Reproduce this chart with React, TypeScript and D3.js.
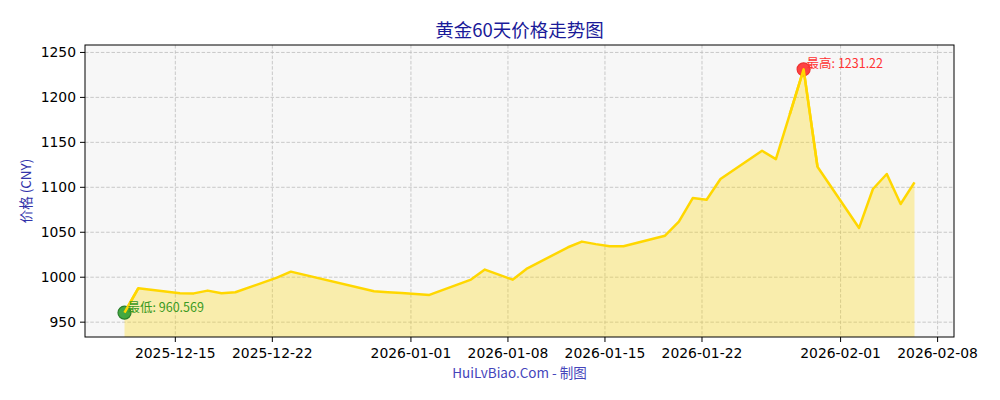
import React from "react";
import * as d3 from "d3";

const dates: string[] = [
  "2025-12-11", "2025-12-12", "2025-12-15", "2025-12-16", "2025-12-17", "2025-12-18", "2025-12-19",
  "2025-12-22", "2025-12-23", "2025-12-29", "2025-12-30", "2025-12-31", "2026-01-02",
  "2026-01-05", "2026-01-06", "2026-01-07", "2026-01-08", "2026-01-09",
  "2026-01-12", "2026-01-13", "2026-01-14", "2026-01-15", "2026-01-16",
  "2026-01-19", "2026-01-20", "2026-01-21", "2026-01-22", "2026-01-23",
  "2026-01-26", "2026-01-27", "2026-01-28", "2026-01-29", "2026-01-30",
  "2026-02-02", "2026-02-03", "2026-02-04", "2026-02-05", "2026-02-06",
];
const prices: number[] = [
  960.569, 987.8, 982.2, 982.0, 985.1, 982.2, 983.3,
  999.5, 1006.2, 984.4, 983.4, 982.4, 980.3,
  997.4, 1008.5, 1002.8, 997.3, 1009.2,
  1033.3, 1039.6, 1036.8, 1034.4, 1034.4,
  1046.2, 1061.8, 1088.1, 1086.2, 1109.2,
  1140.7, 1131.4, 1181.0, 1231.22, 1122.9,
  1054.8, 1098.1, 1114.8, 1081.4, 1105.5,
];
const xTickLabels: string[] = [
  "2025-12-15", "2025-12-22", "2026-01-01", "2026-01-08", "2026-01-15", "2026-01-22", "2026-02-01", "2026-02-08",
];
const yTickValues: number[] = [950, 1000, 1050, 1100, 1150, 1200, 1250];

const title = "黄金60天价格走势图";
const yLabel = "价格 (CNY)";
const footer = "HuiLvBiao.Com - 制图";

const W = 1000, H = 400;
const M = { left: 85, right: 954, top: 45, bottom: 337 };
const CJK = "'Noto Sans CJK SC', 'Noto Sans', sans-serif";
const LAT = "'DejaVu Sans', sans-serif";

export default function App() {
  const parseD = (s: string) => new Date(s + "T08:00:00");
  const data = dates.map((d, i) => ({ t: parseD(d), v: prices[i] }));

  const t0 = +data[0].t, t1 = +data[data.length - 1].t;
  const span = t1 - t0;
  const x = d3.scaleTime()
    .domain([new Date(t0 - 0.05 * span), new Date(t1 + 0.05 * span)])
    .range([M.left, M.right]);

  const vMin = d3.min(prices)!, vMax = d3.max(prices)!;
  const vr = vMax - vMin;
  const y = d3.scaleLinear()
    .domain([vMin - 0.1 * vr, vMax + 0.1 * vr])
    .range([M.bottom, M.top]);

  const line = d3.line<{ t: Date; v: number }>().x(d => x(d.t)).y(d => y(d.v));
  const area = d3.area<{ t: Date; v: number }>().x(d => x(d.t)).y0(M.bottom).y1(d => y(d.v));

  const xTicks = xTickLabels.map(s => ({ s, px: x(new Date(s + "T00:00:00")) }));

  const iMin = prices.indexOf(vMin);
  const iMax = prices.indexOf(vMax);
  const pMin = { x: x(data[iMin].t), y: y(vMin) };
  const pMax = { x: x(data[iMax].t), y: y(vMax) };

  const cx = (M.left + M.right) / 2;

  return (
    <svg width={W} height={H} style={{ position: "absolute", left: 0, top: 0, background: "#fff" }}>
      <rect x={0} y={0} width={W} height={H} fill="#ffffff" />
      <rect x={M.left} y={M.top} width={M.right - M.left} height={M.bottom - M.top} fill="#f7f7f7" />
      {/* grid */}
      <g stroke="#bdbdbd" strokeWidth={0.8} strokeDasharray="3.5,1.8">
        {yTickValues.map(v => (
          <line key={"gy" + v} x1={M.left} x2={M.right} y1={y(v)} y2={y(v)} />
        ))}
        {xTicks.map(t => (
          <line key={"gx" + t.s} x1={t.px} x2={t.px} y1={M.top} y2={M.bottom} />
        ))}
      </g>
      <path d={area(data)!} fill="#ffd700" fillOpacity={0.3} />
      <path d={line(data)!} fill="none" stroke="#ffd700" strokeWidth={2.5} strokeLinejoin="round" />
      {/* markers */}
      <circle cx={pMin.x} cy={pMin.y} r={6.5} fill="#2f9e2f" fillOpacity={0.9} stroke="#2b7f2b" strokeWidth={1.2} />
      <circle cx={pMax.x} cy={pMax.y} r={6.5} fill="#ff2222" fillOpacity={0.85} stroke="#ee3333" strokeWidth={1.2} />
      <path d={line(data.slice(0, 2))!} fill="none" stroke="#ffd700" strokeWidth={2.5} />
      <path d={line(data.slice(iMax - 1, iMax + 2))!} fill="none" stroke="#ffd700" strokeWidth={2.5} strokeLinejoin="round" />
      <text x={pMin.x + 3} y={pMin.y - 1} fontFamily={CJK} fontSize={12.5} fill="#3a9a22">{"最低: " + vMin}</text>
      <text x={pMax.x + 3} y={pMax.y - 1} fontFamily={CJK} fontSize={12.5} fill="#ff3333">{"最高: " + vMax}</text>
      {/* frame */}
      <rect x={M.left} y={M.top} width={M.right - M.left} height={M.bottom - M.top} fill="none" stroke="#000" strokeWidth={1} />
      {/* y axis */}
      {yTickValues.map(v => (
        <g key={"yt" + v}>
          <line x1={M.left - 5} x2={M.left} y1={y(v)} y2={y(v)} stroke="#000" strokeWidth={1} />
          <text x={M.left - 9} y={y(v)} dy="0.36em" textAnchor="end" fontFamily={LAT} fontSize={13.9} fill="#000">{v}</text>
        </g>
      ))}
      {/* x axis */}
      {xTicks.map(t => (
        <g key={"xt" + t.s}>
          <line x1={t.px} x2={t.px} y1={M.bottom} y2={M.bottom + 5} stroke="#000" strokeWidth={1} />
          <text x={t.px} y={M.bottom + 21} textAnchor="middle" fontFamily={LAT} fontSize={13.9} fill="#000">{t.s}</text>
        </g>
      ))}
      <text x={cx} y={37} textAnchor="middle" fontFamily={CJK} fontSize={18.5} fill="#1a1a99">{title}</text>
      <text transform={`translate(31,${(M.top + M.bottom) / 2}) rotate(-90)`} textAnchor="middle" fontFamily={CJK} fontSize={13.5} fill="#3333aa">{yLabel}</text>
      <text x={cx} y={378} textAnchor="middle" fontFamily={CJK} fontSize={13.5} fill="#4444bb">{footer}</text>
    </svg>
  );
}
